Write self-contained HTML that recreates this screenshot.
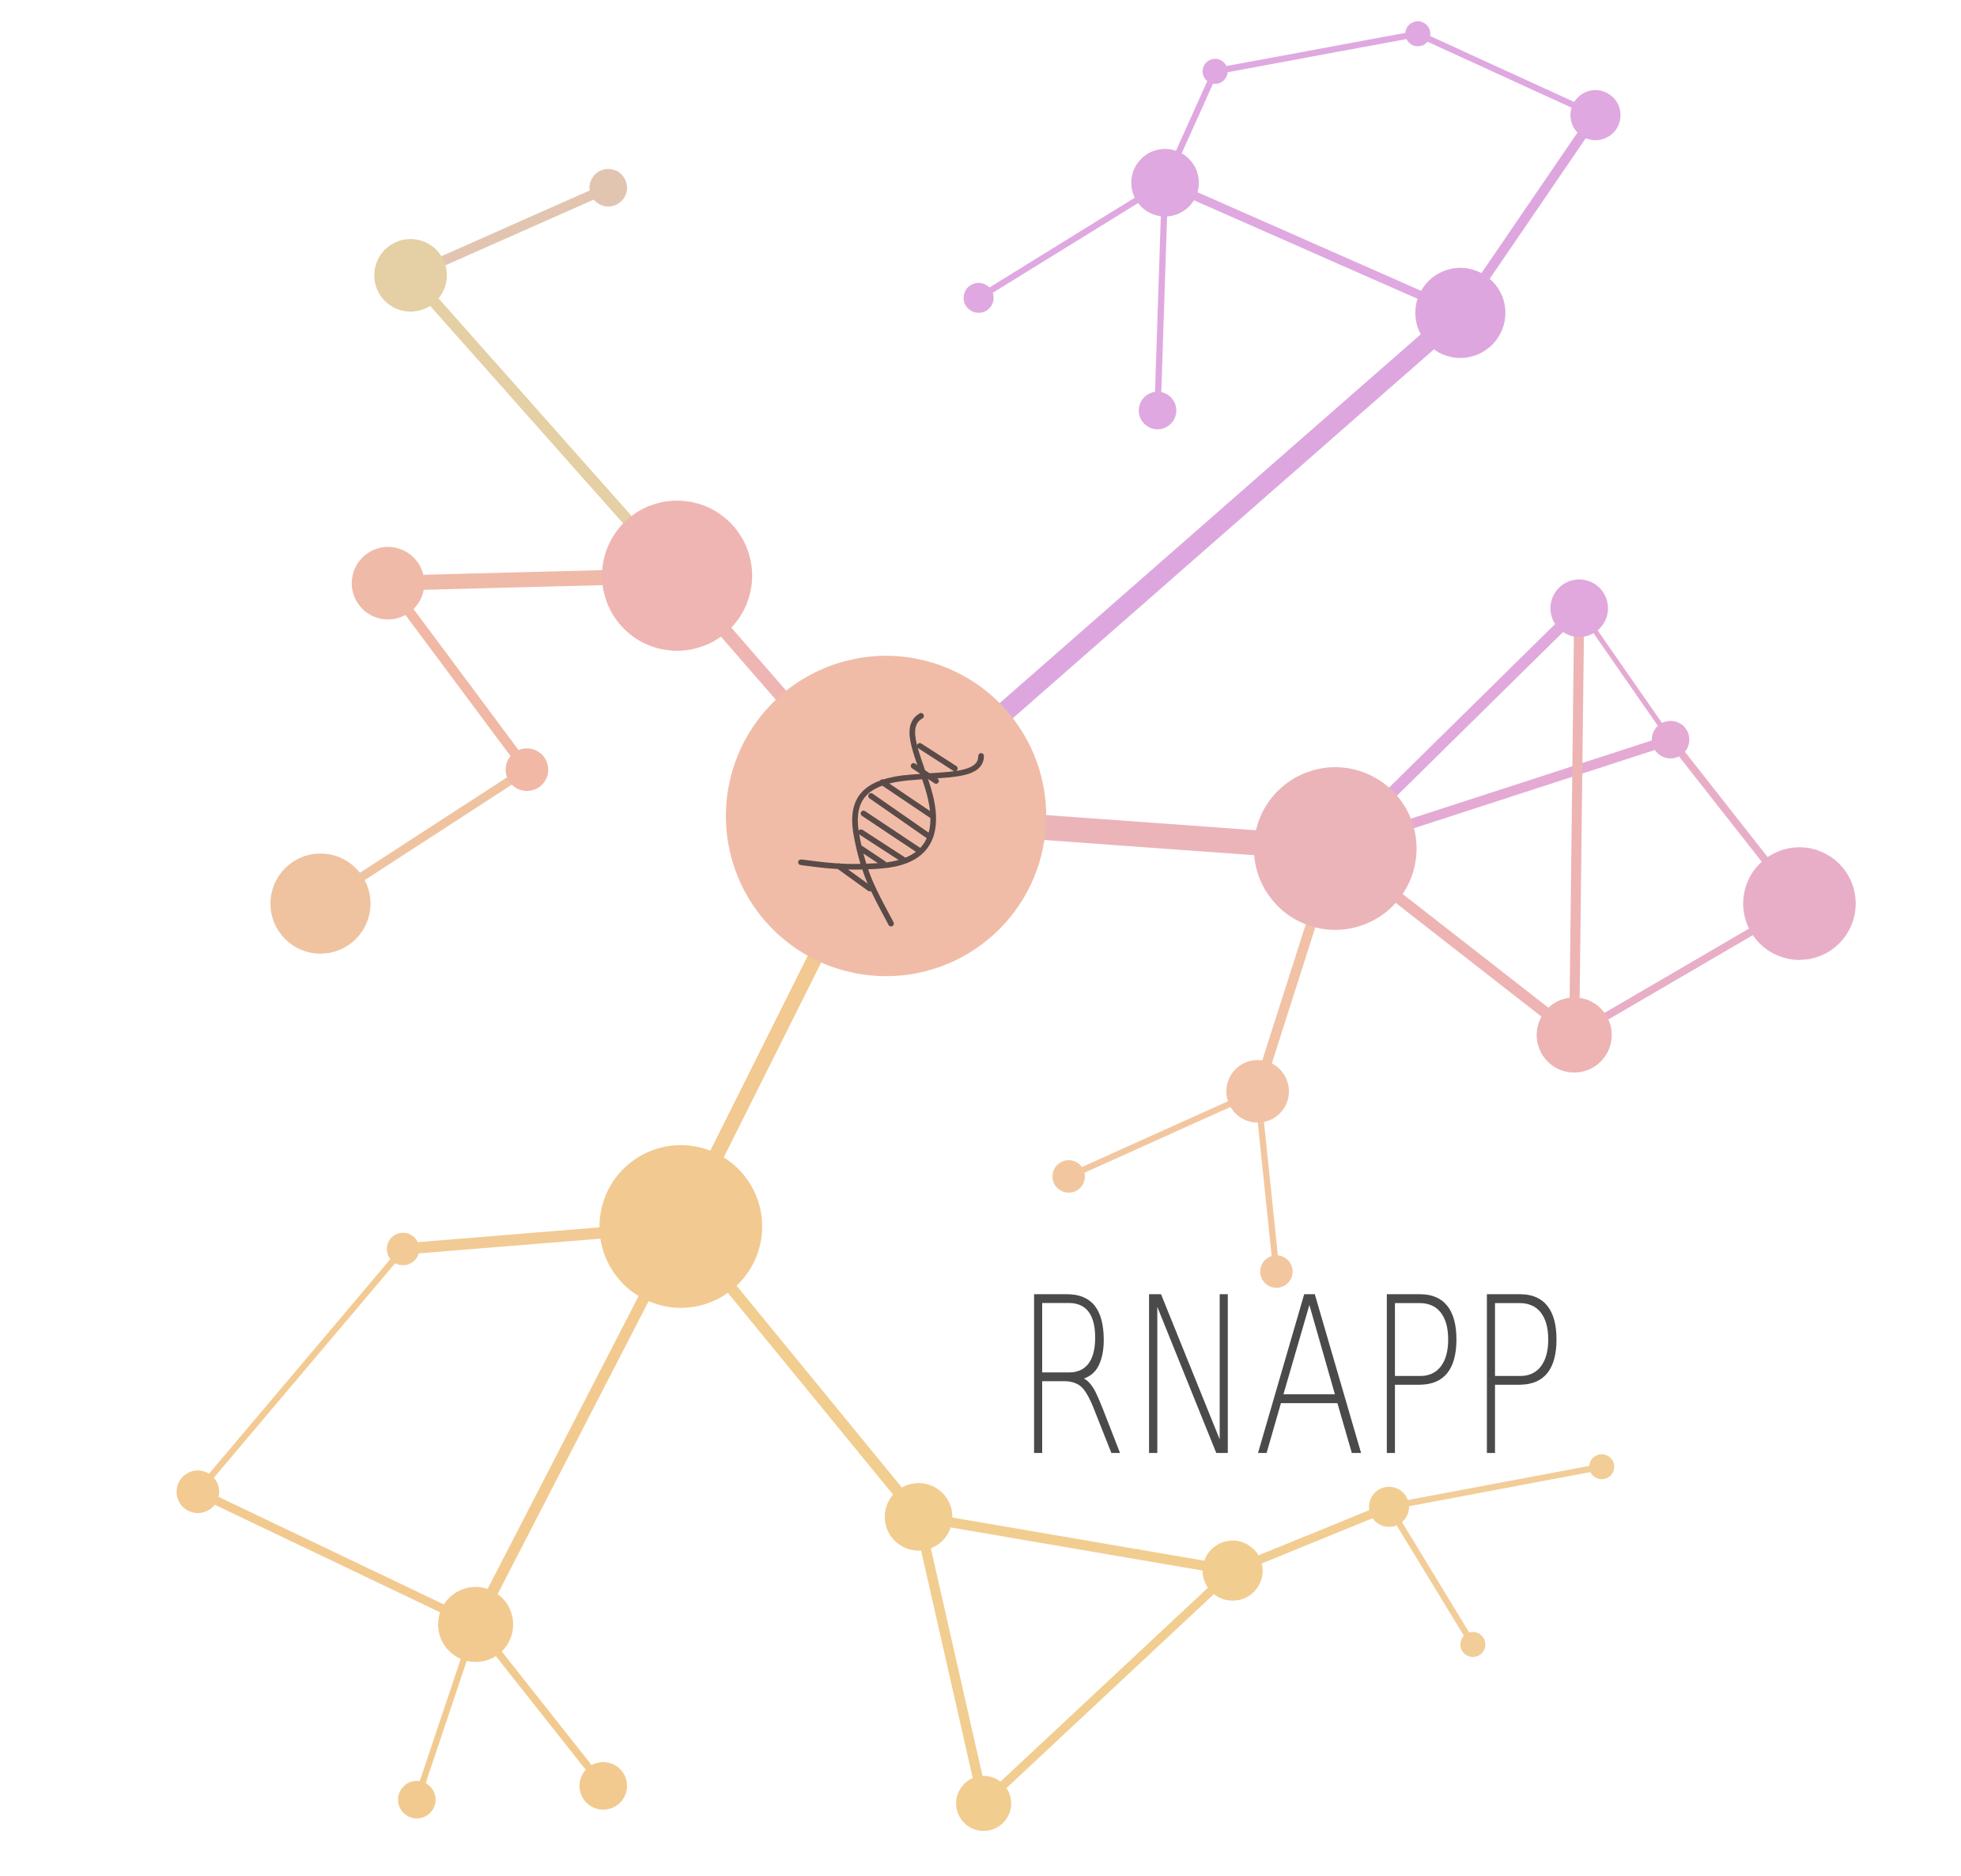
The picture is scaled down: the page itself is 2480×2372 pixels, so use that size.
<!DOCTYPE html>
<html><head><meta charset="utf-8"><style>
html,body{margin:0;padding:0;background:#fff;}
svg{display:block;}
</style></head><body>
<svg id="logo" width="2480" height="2372" viewBox="0 0 1567 1499" xmlns="http://www.w3.org/2000/svg">
<g id="edges"></g>
<g id="nodes"></g>
<g fill="none" stroke="#5a4a48" stroke-width="4.5" stroke-linecap="round">
<path d="M736 572 C722 580,732 600,740 625 C752 660,748 690,700 692 C670 694,650 690,640 689"/>
<path d="M784 604 C784 622,752 618,720 622 C690 626,680 640,684 665 C690 700,700 715,712 738"/>
<path d="M735 596 L763 614 M730 612 L748 624 M705 625 L745 652 M696 636 L742 668 M690 650 L735 680 M688 665 L722 687 M688 678 L706 690 M670 692 L695 710"/>
</g>
<text x="810" y="1161" font-family="DejaVu Sans, Liberation Sans, sans-serif" font-weight="200" font-size="174" textLength="442" lengthAdjust="spacingAndGlyphs" fill="#4a4a4a">RNAPP</text>
</svg>
<script>
const nodeIds=["C","A","B","B2","D","E","F","P1","P2","P3","P4","P5","P6","P7","R","R1","R2","R3","R4","R5","R6","R7","Y","Y1","Y2","Y3","Y4","Y5","Y6","Y7","Y8","Y9","Y10","Y11"];
const nodeX=[708,541,328,486,310,421,256,1167,931,971,1133,1275,782,925,1067,1262,1335,1438,1258,1005,854,1020,544,322,158,380,333,482,734,786,985,1110,1280,1177];
const nodeY=[652,460,220,150,466,615,722,250,146,57,27,92,238,328,678,486,591,722,827,872,940,1016,980,998,1192,1298,1438,1427,1212,1441,1255,1204,1172,1314];
const nodeR=[128,60,29,15,29,17,40,36,27,10,10,20,12,15,65,23,15,45,30,25,13,13,65,13,17,30,15,19,27,22,24,16,10,10];
const nodeColor=["#f0bca8","#efb5b2","#e5cfa4","#e2c5b0","#efbaa8","#f0b8a5","#efc3a0","#dea6df","#dfa8e0","#dfa8e0","#dfa8e0","#dfa8e0","#dfa8e0","#dfa8e0","#ebb4b9","#e0a8dc","#e4aad4","#e8aec8","#edb4b3","#f1c2a5","#f2c7a0","#f2c7a0","#f2c990","#f2ca95","#f2ca92","#f2ca90","#f2ca90","#f2ca90","#f2cd90","#f2cd90","#f2cd90","#f2cd92","#f2cd98","#f2cd98"];
const edgeFrom=["C","A","B","A","D","E","C","P1","P2","P3","P4","P5","P2","P2","C","R","R","R1","R1","R1","R2","R3","R","R","R5","R5","C","Y","Y1","Y2","Y","Y3","Y3","Y","Y6","Y6","Y7","Y8","Y9","Y9","R4"];
const edgeTo=["A","B","B2","D","E","F","P1","P2","P3","P4","P5","P1","P6","P7","R","R2","R4","R","R2","R4","R3","R4","R5","R1","R6","R7","Y","Y1","Y2","Y3","Y3","Y4","Y5","Y6","Y8","Y7","Y8","Y9","Y10","Y11","R3"];
const edgeW=[11,9,8,12,8,7,16,7,5,5,5,8,5,5,20,8,9,5,4,8,6,6,8,9,5,5,12,9,5,7,9,5,6,9,8,8,7,7,5,5,6];
const svgNS="http://www.w3.org/2000/svg";
const eg=document.getElementById("edges"),ng=document.getElementById("nodes");
const idx=id=>nodeIds.indexOf(id);
edgeFrom.forEach((f,i)=>{
  const a=idx(f),b=idx(edgeTo[i]);
  const l=document.createElementNS(svgNS,"line");
  l.setAttribute("x1",nodeX[a]);l.setAttribute("y1",nodeY[a]);
  l.setAttribute("x2",nodeX[b]);l.setAttribute("y2",nodeY[b]);
  l.setAttribute("stroke",nodeColor[b]);l.setAttribute("stroke-width",edgeW[i]);
  l.setAttribute("stroke-linecap","round");
  
  
  eg.appendChild(l);
});
nodeIds.forEach((id,i)=>{
  const c=document.createElementNS(svgNS,"circle");
  c.setAttribute("cx",nodeX[i]);c.setAttribute("cy",nodeY[i]);c.setAttribute("r",nodeR[i]);
  c.setAttribute("fill",nodeColor[i]);
  
  
  ng.appendChild(c);
});
</script>
</body></html>
